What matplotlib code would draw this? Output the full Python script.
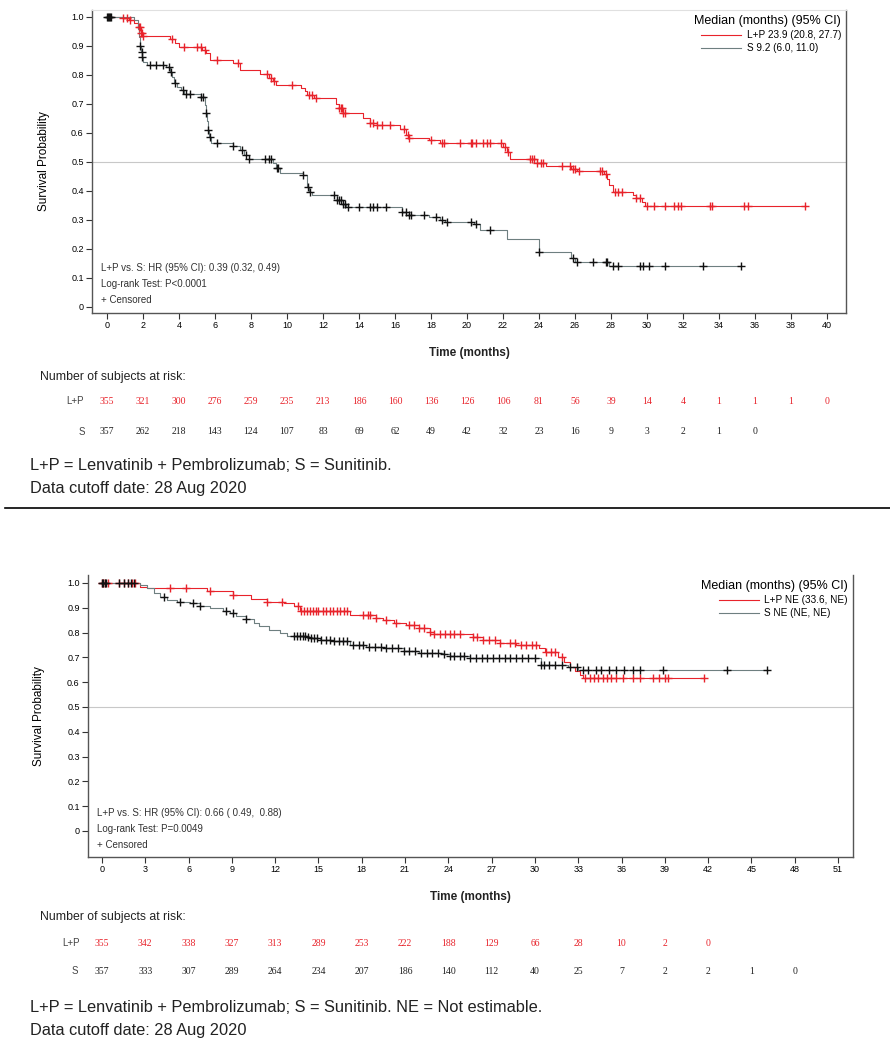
import numpy as np
import matplotlib
matplotlib.use("Agg")
import matplotlib.pyplot as plt
from matplotlib.lines import Line2D
from matplotlib.transforms import blended_transform_factory

plt.rcParams['font.family'] = ['Liberation Sans', 'DejaVu Sans']

# ---------------- DATA: top panel (PFS) ----------------
pfs_lp_t = [0.9, 1.2, 1.5, 1.7, 1.9, 2.0, 3.5, 3.8, 4.0, 5.3, 5.5, 5.7, 7.0, 7.4, 8.5, 9.0, 9.2, 9.4,
            10.8, 11.0, 11.1, 11.5, 12.7, 12.9, 13.1, 14.2, 14.6, 15.0, 16.3, 16.6, 16.8, 17.9, 18.5,
            22.0, 22.2, 22.4, 23.9, 24.4, 25.8, 26.1, 27.6, 27.8, 27.9, 28.1, 29.2, 29.4, 29.7, 29.9]
pfs_lp_s = [0.995, 0.99, 0.98, 0.965, 0.945, 0.934, 0.923, 0.91, 0.898, 0.885, 0.875, 0.85, 0.84, 0.817, 0.805, 0.79, 0.78, 0.765,
            0.755, 0.745, 0.73, 0.72, 0.70, 0.685, 0.668, 0.65, 0.634, 0.628, 0.615, 0.593, 0.582, 0.575, 0.565,
            0.553, 0.535, 0.51, 0.496, 0.486, 0.476, 0.468, 0.46, 0.44, 0.42, 0.398, 0.385, 0.375, 0.362, 0.348]
pfs_lp_end = 38.8
pfs_lp_cens = [0.9, 1.1, 1.3, 1.8, 1.85, 1.9, 1.95, 2.0, 3.6, 4.3, 5.0, 5.2, 5.45, 6.1, 7.3,
               8.9, 9.1, 9.3, 10.3, 11.2, 11.4, 11.6, 12.9, 13.0, 13.05, 13.1, 13.2, 14.6, 14.8, 15.0, 15.3, 15.7,
               16.5, 16.7, 16.8, 18.0, 18.6, 18.7, 19.6, 20.2, 20.3, 20.5, 20.9, 21.1, 21.3, 21.9, 22.1, 22.3,
               23.5, 23.6, 23.7, 23.9, 24.1, 24.2, 25.3, 25.7, 25.9, 26.0, 26.2, 27.4, 27.5, 27.7, 28.2, 28.4, 28.6,
               29.4, 29.6, 30.0, 30.4, 31.0, 31.5, 31.7, 31.9, 33.5, 33.6, 35.4, 35.6, 38.8]

pfs_s_t = [1.5, 1.7, 1.8, 1.85, 1.9, 1.95, 2.0, 2.2, 3.3, 3.5, 3.6, 3.7, 3.9, 4.1, 4.3, 5.2, 5.45, 5.5, 5.55, 5.6, 5.65, 5.8,
           7.0, 7.4, 7.6, 7.9, 9.2, 9.4, 9.6, 10.9, 11.1, 11.2, 11.4, 12.8, 13.1, 13.3, 16.4, 16.8, 17.9, 18.5,
           18.8, 20.4, 20.7, 22.2, 24.0, 25.8, 26.0, 27.9]
pfs_s_s = [0.99, 0.96, 0.93, 0.90, 0.88, 0.863, 0.846, 0.834, 0.829, 0.811, 0.794, 0.771, 0.757, 0.748, 0.735, 0.725, 0.697, 0.67, 0.64, 0.61, 0.585, 0.565,
           0.555, 0.541, 0.524, 0.511, 0.496, 0.478, 0.463, 0.455, 0.415, 0.398, 0.386, 0.369, 0.355, 0.345, 0.329, 0.317, 0.311, 0.30,
           0.294, 0.285, 0.266, 0.233, 0.191, 0.168, 0.156, 0.14]
pfs_s_end = 35.2
pfs_s_cens = [0.0, 0.05, 0.1, 0.15, 0.2, 1.86, 1.92, 1.97, 2.4, 2.7, 3.1, 3.45, 3.55, 3.8, 4.2, 4.4, 4.6, 5.25, 5.35, 5.5, 5.62,
              5.7, 6.1, 7.0, 7.5, 7.7, 7.9, 8.8, 9.0, 9.1, 9.45, 9.5, 10.9, 11.15, 11.3, 12.6, 12.8, 12.9, 13.0, 13.1, 13.2, 13.4,
              14.0, 14.6, 14.8, 15.0, 15.5, 16.4, 16.6, 16.8, 16.9, 17.6, 18.3, 18.6, 18.9, 20.2, 20.5, 21.3, 24.0,
              25.9, 26.1, 27.0, 27.7, 27.8, 28.1, 28.4, 29.6, 29.8, 30.1, 31.0, 33.1, 35.2]

pfs_ticks = list(range(0, 41, 2))
pfs_risk_lp = [355, 321, 300, 276, 259, 235, 213, 186, 160, 136, 126, 106, 81, 56, 39, 14, 4, 1, 1, 1, 0]
pfs_risk_s = [357, 262, 218, 143, 124, 107, 83, 69, 62, 49, 42, 32, 23, 16, 9, 3, 2, 1, 0]
pfs_legend = ["L+P 23.9 (20.8, 27.7)", "S 9.2 (6.0, 11.0)"]
pfs_stats = ["L+P vs. S: HR (95% CI): 0.39 (0.32, 0.49)", "Log-rank Test: P<0.0001", "+ Censored"]
pfs_foot = ["L+P = Lenvatinib + Pembrolizumab; S = Sunitinib.", "Data cutoff date: 28 Aug 2020"]

# ---------------- DATA: bottom panel (OS) ----------------
os_lp_t = [2.6, 3.1, 7.3, 9.1, 10.3, 11.4, 12.6, 13.3, 13.7, 17.2, 19.0, 19.5, 20.2, 21.1, 22.0, 22.7, 23.0,
           25.7, 26.4, 27.6, 28.7, 30.3, 30.7, 31.6, 32.0, 32.4, 32.8, 33.1, 33.3]
os_lp_s = [0.985, 0.978, 0.969, 0.952, 0.934, 0.925, 0.918, 0.905, 0.888, 0.871, 0.857, 0.851, 0.84, 0.831, 0.817, 0.804, 0.794,
           0.783, 0.77, 0.759, 0.75, 0.737, 0.72, 0.703, 0.683, 0.662, 0.645, 0.629, 0.615]
os_lp_end = 41.7
os_lp_cens = [0.0, 0.1, 0.2, 0.4, 1.2, 1.5, 1.8, 2.1, 2.3, 4.7, 5.8, 7.5, 9.1, 11.4, 12.5, 13.6, 13.8, 14.0, 14.2, 14.4,
              14.6, 14.8, 15.0, 15.3, 15.5, 15.8, 16.0, 16.3, 16.5, 16.8, 17.0, 18.1, 18.4, 18.6, 19.0, 19.7, 20.4,
              21.3, 21.6, 22.0, 22.3, 22.7, 23.0, 23.4, 23.8, 24.1, 24.4, 24.8, 25.7, 26.0, 26.4, 26.8, 27.2, 27.6,
              28.3, 28.6, 29.0, 29.4, 29.8, 30.1, 30.8, 31.1, 31.4, 31.9, 33.5, 33.8, 34.1, 34.4, 34.7, 35.0, 35.3,
              35.6, 36.1, 36.8, 37.3, 38.2, 38.6, 39.0, 39.2, 41.7]

os_s_t = [2.6, 3.1, 3.6, 4.0, 4.5, 5.2, 6.1, 6.8, 7.5, 8.4, 8.9, 9.3, 10.0, 10.5, 10.9, 11.6, 12.3, 12.8,
          14.2, 14.4, 15.1, 16.0, 17.2, 18.3, 19.7, 20.9, 22.0, 23.6, 24.1, 25.5, 30.4, 32.3, 33.0]
os_s_s = [0.99, 0.979, 0.958, 0.945, 0.931, 0.925, 0.918, 0.905, 0.898, 0.888, 0.878, 0.867, 0.853, 0.837, 0.827, 0.81, 0.797, 0.788,
          0.781, 0.777, 0.768, 0.764, 0.75, 0.743, 0.737, 0.726, 0.717, 0.714, 0.706, 0.698, 0.67, 0.66, 0.65]
os_s_end = 46.1
os_s_cens = [0.0, 0.1, 0.2, 0.3, 1.2, 1.5, 1.8, 2.0, 2.2, 4.3, 5.4, 6.3, 6.8, 8.6, 9.1, 10.0, 13.3, 13.5, 13.7, 13.9,
             14.1, 14.3, 14.5, 14.7, 14.9, 15.2, 15.5, 15.8, 16.1, 16.4, 16.7, 17.0, 17.4, 17.8, 18.1, 18.5, 18.9,
             19.3, 19.7, 20.1, 20.5, 20.9, 21.3, 21.7, 22.1, 22.5, 22.9, 23.3, 23.7, 24.1, 24.4, 24.8, 25.1, 25.5,
             25.9, 26.3, 26.7, 27.1, 27.5, 27.9, 28.3, 28.7, 29.1, 29.5, 30.0, 30.4, 30.6, 31.0, 31.4, 31.9,
             32.4, 32.9, 33.3, 33.7, 34.2, 34.6, 35.1, 35.6, 36.2, 36.8, 37.3, 38.9, 43.3, 46.1]

os_ticks = list(range(0, 52, 3))
os_risk_lp = [355, 342, 338, 327, 313, 289, 253, 222, 188, 129, 66, 28, 10, 2, 0]
os_risk_s = [357, 333, 307, 289, 264, 234, 207, 186, 140, 112, 40, 25, 7, 2, 2, 1, 0]
os_legend = ["L+P NE (33.6, NE)", "S NE (NE, NE)"]
os_stats = ["L+P vs. S: HR (95% CI): 0.66 ( 0.49,  0.88)", "Log-rank Test: P=0.0049", "+ Censored"]
os_foot = ["L+P = Lenvatinib + Pembrolizumab; S = Sunitinib. NE = Not estimable.", "Data cutoff date: 28 Aug 2020"]

yticks = [0, 0.1, 0.2, 0.3, 0.4, 0.5, 0.6, 0.7, 0.8, 0.9, 1.0]
ytick_labels = ["0", "0.1", "0.2", "0.3", "0.4", "0.5", "0.6", "0.7", "0.8", "0.9", "1.0"]

RED = "#e8232b"
SLINE = "#6e7f80"
W, H = 890, 1041

fig = plt.figure(figsize=(W / 100, H / 100), dpi=100)


def fy(px):
    return 1 - px / H


def km(ax, t, s, end, cens, line_color, mark_color):
    tt = np.concatenate([[0.0], t, [end]])
    ss = np.concatenate([[1.0], s, [s[-1]]])
    ax.step(tt, ss, where='post', color=line_color, lw=0.8, zorder=3)
    c = np.asarray(cens)
    idx = np.searchsorted(np.asarray(t), c, side='right') - 1
    cy = np.where(idx >= 0, np.asarray(s)[np.clip(idx, 0, None)], 1.0)
    ax.plot(c, cy, ls='none', marker='+', ms=5.5, mew=1.0, color=mark_color, zorder=4)


def panel(rect, xlim, ylim, ticks, lp, sdat, legend, stats, stats_y, risk_lp, risk_s,
          xlab_y, nrisk_y, lp_y, s_y, foot, foot_y, top_spine, lp_lab_x, s_lab_x, ylab_x):
    ax = fig.add_axes(rect)
    ax.set_xlim(*xlim)
    ax.set_ylim(*ylim)
    ax.axhline(0.5, color="#c8c8c8", lw=0.8, zorder=1)
    km(ax, *lp, RED, RED)
    km(ax, *sdat, SLINE, "#111111")
    ax.set_xticks(ticks)
    ax.set_xticklabels([str(v) for v in ticks], fontsize=6.5)
    ax.set_yticks(yticks)
    ax.set_yticklabels(ytick_labels, fontsize=6.5)
    ax.tick_params(length=4, width=0.8, color="#333333", pad=2)
    for sp in ['left', 'bottom', 'right']:
        ax.spines[sp].set_color("#555555")
        ax.spines[sp].set_linewidth(1.0)
    if top_spine:
        ax.spines['top'].set_color("#e0e0e0")
    else:
        ax.spines['top'].set_visible(False)
    ax.set_ylabel("Survival Probability", fontsize=8.5)
    ax.yaxis.set_label_coords(ylab_x, 0.5, transform=blended_transform_factory(fig.transFigure, ax.transAxes))
    # legend
    handles = [Line2D([], [], color=RED, lw=0.8), Line2D([], [], color=SLINE, lw=0.8)]
    ax.legend(handles, legend, loc='upper right', frameon=False, fontsize=7.2,
              title="Median (months) (95% CI)", title_fontsize=9, alignment='right',
              handlelength=4.0, handletextpad=0.6, labelspacing=0.3,
              borderaxespad=0.2, borderpad=0.3)
    tr_s = blended_transform_factory(ax.transAxes, fig.transFigure)
    for i, txt in enumerate(stats):
        ax.text(0.012, fy(stats_y[i]), txt, transform=tr_s,
                fontsize=7, color="#333333", va='center', ha='left')
    # axis label & at-risk table
    fig.text(rect[0] + rect[2] / 2, fy(xlab_y), "Time (months)", fontsize=8.5, ha='center', va='center',
             fontweight='bold', color="#222222")
    fig.text(40 / W, fy(nrisk_y), "Number of subjects at risk:", fontsize=8.8, ha='left', va='center', color="#222222")
    tr = blended_transform_factory(ax.transData, fig.transFigure)
    fig.text(lp_lab_x / W, fy(lp_y), "L+P", fontsize=7, ha='left', va='center', color="#444444")
    fig.text(s_lab_x / W, fy(s_y), "S", fontsize=7, ha='left', va='center', color="#444444")
    for i, v in enumerate(risk_lp):
        ax.text(ticks[i], fy(lp_y), str(v), transform=tr, fontsize=7, color=RED, ha='center', va='center',
                family='Liberation Serif')
    for i, v in enumerate(risk_s):
        ax.text(ticks[i], fy(s_y), str(v), transform=tr, fontsize=7, color="#222222", ha='center', va='center',
                family='Liberation Serif')
    fig.text(30 / W, fy(foot_y[0]), foot[0], fontsize=11.8, ha='left', va='center', color="#222222")
    fig.text(30 / W, fy(foot_y[1]), foot[1], fontsize=11.8, ha='left', va='center', color="#222222")
    return ax


# top panel
panel([92 / W, fy(313), (846 - 92) / W, (313 - 10) / H], (-0.833, 41.06), (-0.0207, 1.024), pfs_ticks,
      (pfs_lp_t, pfs_lp_s, pfs_lp_end, pfs_lp_cens), (pfs_s_t, pfs_s_s, pfs_s_end, pfs_s_cens),
      pfs_legend, pfs_stats, [268, 284, 300], pfs_risk_lp, pfs_risk_s,
      353, 377, 401, 432, pfs_foot, [465, 488], True, 66, 79, 50 / W)

# separator
fig.add_artist(Line2D([5 / W, 1.0], [fy(508), fy(508)], color="black", lw=1.2))

# bottom panel
panel([88 / W, fy(857), (853 - 88) / W, (857 - 575) / H], (-0.97, 52.04), (-0.105, 1.032), os_ticks,
      (os_lp_t, os_lp_s, os_lp_end, os_lp_cens), (os_s_t, os_s_s, os_s_end, os_s_cens),
      os_legend, os_stats, [813, 829, 845], os_risk_lp, os_risk_s,
      897, 917, 943, 971, os_foot, [1007, 1030], False, 62, 72, 45 / W)

fig.savefig("out.png", dpi=100, facecolor="white")
